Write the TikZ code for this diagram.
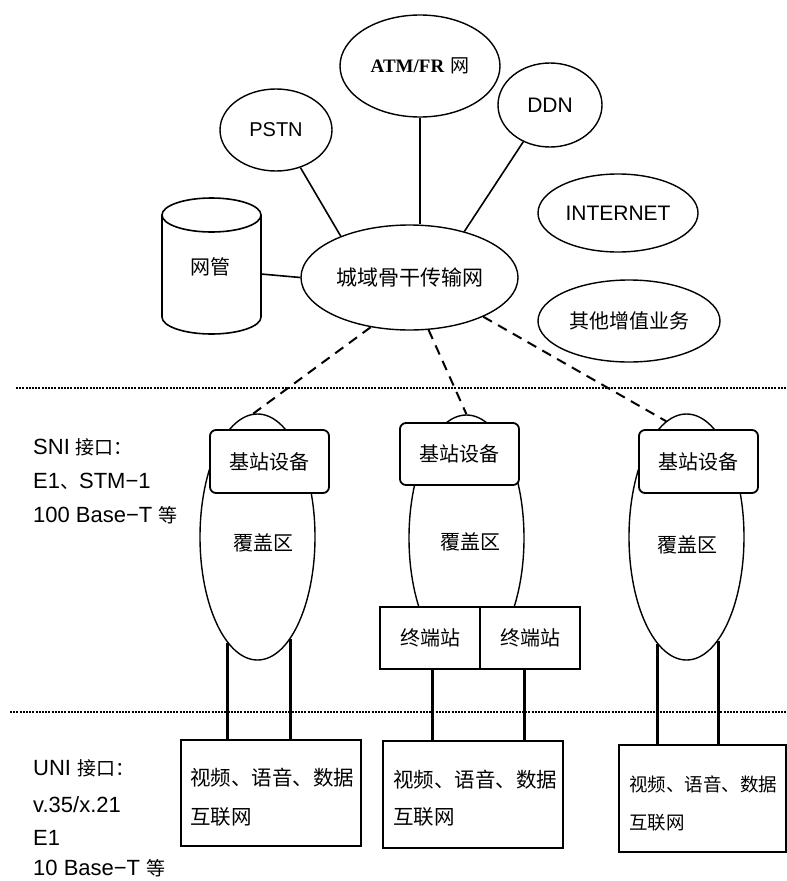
\documentclass[tikz,border=0pt]{standalone}
\usepackage{fontspec}
\setmainfont{Liberation Sans}
\newfontfamily\cjk{Noto Sans CJK SC}
\newfontfamily\serifb{Liberation Serif}
\usetikzlibrary{shapes.geometric}
\begin{document}
\begin{tikzpicture}[x=1pt,y=-1pt,
  ell/.style={ellipse, draw, line width=1.4pt, inner sep=0pt, fill=white},
  cjkf/.style={font={\cjk\fontsize{#1}{#1}\selectfont}},
  latf/.style={font={\fontsize{#1}{#1}\selectfont}},
  bsbox/.style={draw, fill=white, rounded corners=6pt, line width=1.8pt, minimum width=119pt, minimum height=63pt, inner sep=0pt, cjkf=20},
  tbox/.style={draw, fill=white, line width=1.8pt, minimum width=100pt, minimum height=62pt, inner sep=0pt, cjkf=20},
  ubox/.style={draw, fill=white, line width=1.8pt, inner sep=0pt},
  lbl/.style={anchor=west, inner sep=0pt, latf=22},
  txt/.style={anchor=west, inner sep=0pt},
  conn/.style={line width=1.6pt},
  dconn/.style={line width=2pt, dash pattern=on 10pt off 7pt},
  vconn/.style={line width=3pt},
  sep/.style={line width=2.6pt, dash pattern=on 2pt off 1.2pt}
]
\useasboundingbox (0,0) rectangle (787,881);

% separators
\coordinate (d1a) at (16,388);
\coordinate (d1b) at (787,388);
\coordinate (d2a) at (10,712);
\coordinate (d2b) at (787,712);
\draw[sep] (d1a) -- (d1b);
\draw[sep] (d2a) -- (d2b);

% upper network ellipses
\node[ell, minimum width=160pt, minimum height=102pt] (atm) at (420,66)
  {{\fontsize{19}{19}\selectfont\serifb\bfseries ATM/FR}\hspace{6pt}{\cjk\fontsize{19}{19}\selectfont 网}};
\node[ell, minimum width=112pt, minimum height=82pt, latf=20] (pstn) at (276,130) {PSTN};
\node[ell, minimum width=104pt, minimum height=84pt, latf=21] (ddn) at (550,105) {DDN};
\node[ell, minimum width=160pt, minimum height=78pt, latf=21] (inet) at (618,213) {INTERNET};
\node[ell, minimum width=182pt, minimum height=82pt, cjkf=20] (oth) at (629,321) {其他增值业务};
\node[ell, minimum width=217pt, minimum height=105pt, cjkf=21] (city) at (409.5,277.5) {城域骨干传输网};

% cylinder (network management)
\draw[line width=1.6pt, fill=white] (162,215) -- (162,317)
  arc[start angle=180, end angle=360, x radius=49.5pt, y radius=17pt] -- (261,215);
\draw[line width=1.6pt] (211.5,215) ellipse [x radius=49.5pt, y radius=17pt];
\node[cjkf=20, inner sep=0pt] (nm) at (210,267) {网管};
\coordinate (nmr) at (261,274);

% upper connectors
\draw[conn] (atm.south) -- (atm.south |- city.north);
\draw[conn] (pstn.-57) -- (city.149);
\draw[conn] (ddn.-126) -- (city.40);
\draw[conn] (nmr) -- (city.west);

% coverage areas
\node[ell, minimum width=115pt, minimum height=246pt] (cov1) at (257.5,537) {};
\node[ell, minimum width=115pt, minimum height=246pt] (cov2) at (466.5,538) {};
\node[ell, minimum width=115pt, minimum height=246pt] (cov3) at (686.5,537) {};
\node[cjkf=20, inner sep=0pt] (cv1) at (263,543) {覆盖区};
\node[cjkf=20, inner sep=0pt] (cv2) at (470,542) {覆盖区};
\node[cjkf=20, inner sep=0pt] (cv3) at (687,545) {覆盖区};

% dashed links
\draw[dconn] (city.-128) -- (cov1.92);
\draw[dconn] (city.-70) -- (cov2.90);
\draw[dconn] (city.-28) -- (cov3.100);

% base station boxes
\node[bsbox] (bs1) at (269.5,461.5) {基站设备};
\node[bsbox, minimum height=62pt] (bs2) at (459.5,454) {基站设备};
\node[bsbox] (bs3) at (698.5,461.5) {基站设备};

% terminal stations
\node[tbox] (t1) at (430,638) {终端站};
\node[tbox] (t2) at (530,638) {终端站};

% user boxes
\node[ubox, minimum width=180pt, minimum height=106pt] (u1) at (271,793) {};
\node[ubox, minimum width=180pt, minimum height=107pt] (u2) at (473,794.5) {};
\node[ubox, minimum width=167pt, minimum height=107pt] (u3) at (702.5,798.5) {};
\node[txt, cjkf=20.5] (u1a) at (190,778) {视频、语音、数据};
\node[txt, cjkf=20.5] (u1b) at (190,817) {互联网};
\node[txt, cjkf=20.5] (u2a) at (393,780) {视频、语音、数据};
\node[txt, cjkf=20.5] (u2b) at (393,817) {互联网};
\node[txt, cjkf=18.5] (u3a) at (629,784) {视频、语音、数据};
\node[txt, cjkf=18.5] (u3b) at (629,823) {互联网};

% vertical links
\draw[vconn] (cov1.-106.5) -- (cov1.-106.5 |- u1.north);
\draw[vconn] (cov1.-72.2) -- (cov1.-72.2 |- u1.north);
\draw[vconn] ([xshift=2pt]t1.south) -- ([xshift=2pt]t1.south |- u2.north);
\draw[vconn] ([xshift=-6pt]t2.south) -- ([xshift=-6pt]t2.south |- u2.north);
\draw[vconn] (cov3.-105.6) -- (cov3.-105.6 |- u3.north);
\draw[vconn] (cov3.-73) -- (cov3.-73 |- u3.north);

% interface labels
\node[lbl] (sni1) at (33,447) {SNI {\cjk\fontsize{19}{19}\selectfont 接口：}};
\node[lbl] (sni2) at (33,481) {E1{\cjk\fontsize{19}{19}\selectfont 、}STM−1};
\node[lbl] (sni3) at (33,515) {100 Base−T {\cjk\fontsize{19}{19}\selectfont 等}};
\node[lbl] (uni1) at (33,768) {UNI {\cjk\fontsize{19}{19}\selectfont 接口：}};
\node[lbl] (uni2) at (33,805) {v.35/x.21};
\node[lbl] (uni3) at (33,838) {E1};
\node[lbl] (uni4) at (33,868) {10 Base−T {\cjk\fontsize{19}{19}\selectfont 等}};
\end{tikzpicture}
\end{document}
